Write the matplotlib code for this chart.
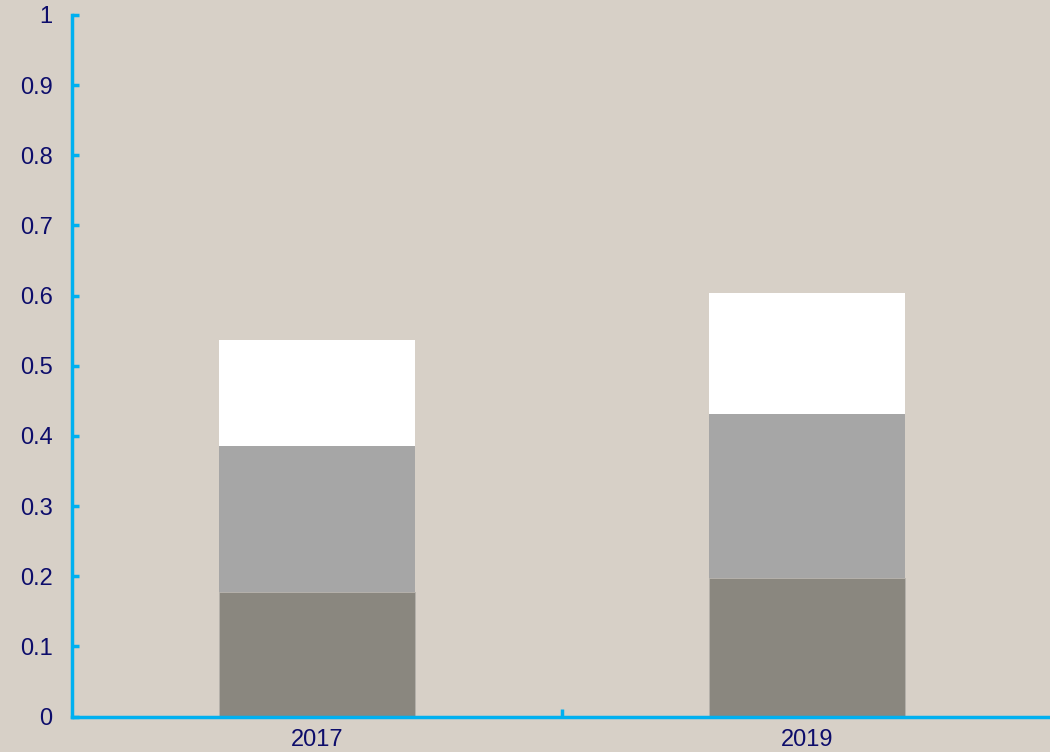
import matplotlib
matplotlib.use('Agg')
import matplotlib.pyplot as plt
import numpy as np

years = ['2017', '2019']
bottom_part = [0.177, 0.197]
middle_part = [0.209, 0.234]
top_part = [0.151, 0.173]

bg = '#D7D0C7'
spine_col = '#00B0F0'
text_col = '#0D0D6B'

plt.rcParams['font.family'] = ['Liberation Sans', 'DejaVu Sans']

fig = plt.figure(figsize=(10.5, 7.52), dpi=100, facecolor=bg)
ax = fig.add_axes([0.0686, 0.0472, 0.9333, 0.933])
ax.set_facecolor(bg)

x = np.arange(len(years))
w = 0.4
b1 = np.array(bottom_part)
b2 = b1 + np.array(middle_part)
ax.bar(x, bottom_part, w, color='#8A877F', edgecolor='#B5B2AC', linewidth=0.6)
ax.bar(x, middle_part, w, bottom=b1, color='#A6A6A6', linewidth=0)
ax.bar(x, top_part, w, bottom=b2, color='white', linewidth=0)

ax.set_xlim(-0.5, 1.5)
ax.set_ylim(0, 1)
ax.set_yticks(np.arange(0, 1.01, 0.1))
ax.set_yticklabels(['0'] + ['%.1f' % v for v in np.arange(0.1, 0.95, 0.1)] + ['1'])
ax.set_xticks(x)
ax.set_xticklabels(years)
ax.set_xticks([0.5], minor=True)

for s in ['top', 'right']:
    ax.spines[s].set_visible(False)
for s in ['left', 'bottom']:
    ax.spines[s].set_color(spine_col)
    ax.spines[s].set_linewidth(2.5)

ax.tick_params(axis='y', direction='in', length=5, width=2.5, color=spine_col,
               labelcolor=text_col, labelsize=17, pad=14)
ax.tick_params(axis='x', which='major', length=0, labelcolor=text_col, labelsize=17, pad=9)
ax.tick_params(axis='x', which='minor', direction='in', length=6, width=2.5, color=spine_col)

fig.savefig('out.png', dpi=100, facecolor=bg)
